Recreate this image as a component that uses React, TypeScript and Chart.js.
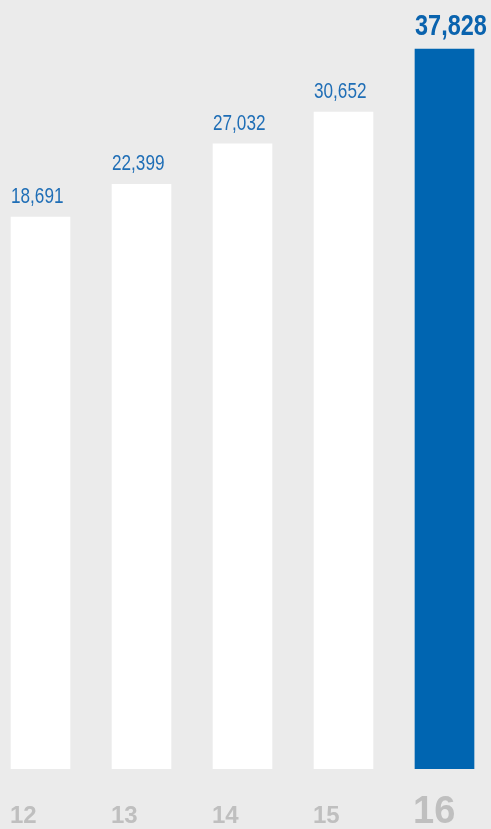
import React, { useEffect, useRef } from "react";
import { Chart, registerables } from "chart.js";

Chart.register(...registerables);

const categories = ["12", "13", "14", "15", "16"];
const values = [18691, 22399, 27032, 30652, 37828];
const highlightIndex = 4;
const yMin = -44188;
const yMax = 43410;

const BG = "#ebebeb";
const BAR_WHITE = "#ffffff";
const BAR_BLUE = "#0065b1";
const LABEL_BLUE = "#1f6eb6";
const LABEL_BLUE_BOLD = "#0a63ae";
const AXIS_GRAY = "#bfbfbf";

function drawCondensed(ctx: any, text: string, x: number, y: number, font: string, sx: number) {
  ctx.save();
  ctx.font = font;
  ctx.translate(x, y);
  ctx.scale(sx, 1);
  ctx.fillText(text, 0, 0);
  ctx.restore();
}

const labelPlugin = {
  id: "customLabels",
  afterDatasetsDraw(chart: any) {
    const ctx = chart.ctx;
    const meta = chart.getDatasetMeta(0);
    ctx.save();
    ctx.textAlign = "left";
    ctx.textBaseline = "alphabetic";
    meta.data.forEach((bar: any, i: number) => {
      const left = bar.x - bar.width / 2;
      const hl = i === highlightIndex;
      ctx.fillStyle = hl ? LABEL_BLUE_BOLD : LABEL_BLUE;
      drawCondensed(
        ctx,
        values[i].toLocaleString("en-US"),
        left,
        bar.y - 14,
        hl ? "bold 29px 'Liberation Sans', Arial, sans-serif" : "22px 'Liberation Sans', Arial, sans-serif",
        hl ? 0.81 : 0.78
      );
      ctx.fillStyle = AXIS_GRAY;
      ctx.font = hl
        ? "bold 38px 'Liberation Sans', Arial, sans-serif"
        : "bold 24px 'Liberation Sans', Arial, sans-serif";
      ctx.fillText(categories[i], left - (hl ? 2 : 1), chart.chartArea.bottom + 54);
    });
    ctx.restore();
  },
};

export default function App() {
  const ref = useRef<HTMLCanvasElement | null>(null);

  useEffect(() => {
    document.body.style.margin = "0";
    document.body.style.background = BG;
    document.body.style.overflow = "hidden";
    const canvas = ref.current;
    if (!canvas) return;
    const chart = new Chart(canvas, {
      type: "bar",
      data: {
        labels: categories,
        datasets: [
          {
            data: values,
            base: yMin,
            backgroundColor: values.map((_, i) => (i === highlightIndex ? BAR_BLUE : BAR_WHITE)),
            borderWidth: 0,
            barThickness: 59,
          } as any,
        ],
      },
      options: {
        animation: false,
        responsive: false,
        maintainAspectRatio: false,
        events: [],
        layout: { padding: { left: 0, right: 6, top: 0, bottom: 60 } },
        plugins: {
          legend: { display: false },
          tooltip: { enabled: false },
          title: { display: false },
        },
        scales: {
          x: { display: false, offset: true, grid: { display: false } },
          y: { display: false, min: yMin, max: yMax, grid: { display: false } },
        },
      },
      plugins: [labelPlugin],
    });
    return () => chart.destroy();
  }, []);

  return (
    <div style={{ position: "relative", width: 491, height: 829, overflow: "hidden", background: BG }}>
      <canvas
        ref={ref}
        width={511}
        height={829}
        style={{ position: "absolute", left: -10, top: 0, width: 511, height: 829 }}
      />
    </div>
  );
}
